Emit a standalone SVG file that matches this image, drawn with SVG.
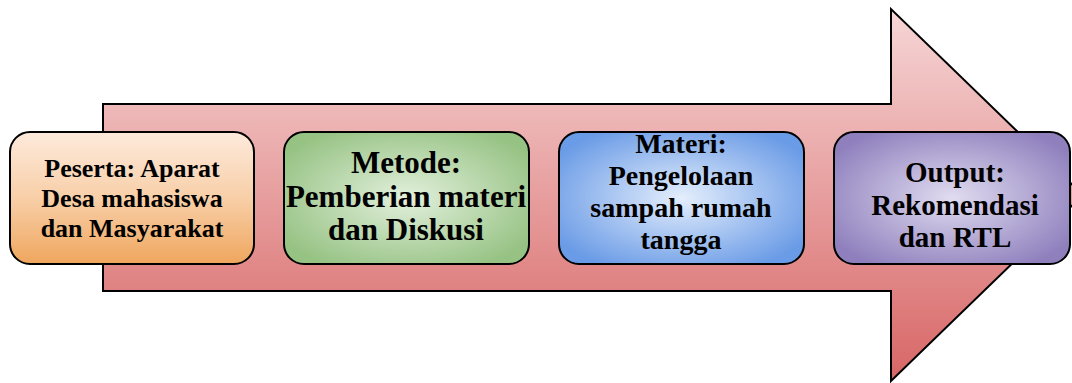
<svg xmlns="http://www.w3.org/2000/svg" width="1072" height="383" viewBox="0 0 1072 383">
<defs>
<linearGradient id="gArrow" x1="0" y1="0" x2="0" y2="1">
<stop offset="0" stop-color="#f6d6d6"/>
<stop offset="1" stop-color="#d86666"/>
</linearGradient>
<linearGradient id="g1" x1="0" y1="0" x2="0" y2="1">
<stop offset="0" stop-color="#fdeadc"/>
<stop offset="0.5" stop-color="#f8cfa8"/>
<stop offset="1" stop-color="#efa65e"/>
</linearGradient>
<radialGradient id="g2" cx="0.5" cy="0.5" r="0.6">
<stop offset="0" stop-color="#e2f0dc"/>
<stop offset="1" stop-color="#96c283"/>
</radialGradient>
<radialGradient id="g3" cx="0.5" cy="0.5" r="0.6">
<stop offset="0" stop-color="#e4eefc"/>
<stop offset="1" stop-color="#6a9be6"/>
</radialGradient>
<radialGradient id="g4" cx="0.5" cy="0.5" r="0.6">
<stop offset="0" stop-color="#e0dcf0"/>
<stop offset="1" stop-color="#8f80bd"/>
</radialGradient>
</defs>
<style>
.box{stroke:#000;stroke-width:2}
.t{font-family:"Liberation Serif","Times New Roman",serif;font-weight:bold;fill:#000;text-anchor:middle}
</style>
<g id="connectors">
<path id="arrow" d="M103,104 H891 V9 L1083,195 L891,381 V291 H103 Z" fill="url(#gArrow)" stroke="#000" stroke-width="2"/>
</g>
<g id="node1">
<rect class="box" x="10" y="132" width="244" height="132" rx="20" fill="url(#g1)"/>
<text class="t" font-size="26" x="132" y="177">Peserta: Aparat</text>
<text class="t" font-size="26" x="132" y="207">Desa mahasiswa</text>
<text class="t" font-size="26" x="132" y="237">dan Masyarakat</text>
</g>
<g id="node2">
<rect class="box" x="284" y="132" width="245" height="132" rx="20" fill="url(#g2)"/>
<text class="t" font-size="31" x="406" y="173">Metode:</text>
<text class="t" font-size="31" x="406" y="207">Pemberian materi</text>
<text class="t" font-size="31" x="406" y="240">dan Diskusi</text>
</g>
<g id="node3">
<rect class="box" x="559" y="132" width="245" height="132" rx="20" fill="url(#g3)"/>
<text class="t" font-size="28" x="681" y="153">Materi:</text>
<text class="t" font-size="28" x="681" y="185">Pengelolaan</text>
<text class="t" font-size="28" x="681" y="217">sampah rumah</text>
<text class="t" font-size="28" x="681" y="249">tangga</text>
</g>
<g id="node4">
<rect class="box" x="834" y="132" width="236" height="132" rx="20" fill="url(#g4)"/>
<text class="t" font-size="29" x="955" y="182">Output:</text>
<text class="t" font-size="29" x="955" y="215">Rekomendasi</text>
<text class="t" font-size="29" x="955" y="247">dan RTL</text>
</g>
</svg>
